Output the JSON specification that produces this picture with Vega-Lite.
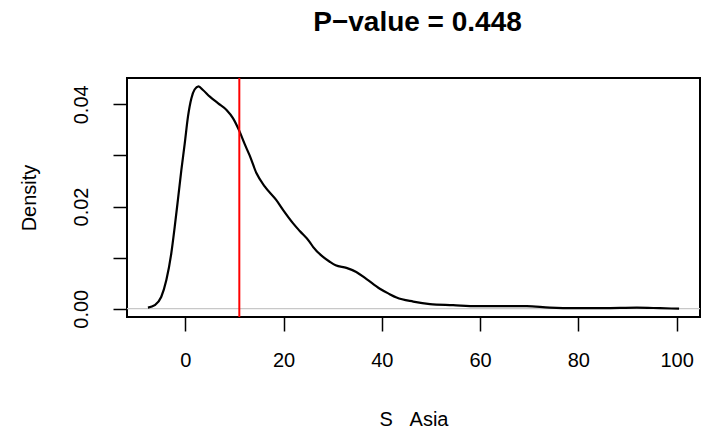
{
  "$schema": "https://vega.github.io/schema/vega-lite/v6.json",
  "width": 573,
  "height": 239,
  "autosize": "none",
  "padding": {"left": 127, "top": 78, "right": 4, "bottom": 116},
  "background": "white",
  "title": {
    "text": "P\u2212value = 0.448",
    "font": "Liberation Sans",
    "fontSize": 28,
    "fontWeight": "bold",
    "color": "black",
    "anchor": "middle",
    "frame": "group",
    "baseline": "alphabetic",
    "offset": 18,
    "dx": 4
  },
  "config": {
    "view": {"stroke": "black", "strokeWidth": 2},
    "axis": {
      "labelFont": "Liberation Sans",
      "titleFont": "Liberation Sans",
      "labelColor": "black",
      "titleColor": "black",
      "tickColor": "black",
      "tickWidth": 1.5,
      "tickSize": 14,
      "domain": false,
      "grid": false,
      "labelFontSize": 20,
      "titleFontSize": 20,
      "titleFontWeight": "normal"
    }
  },
  "data": {
    "values": [
      {"x": -7.6, "density": 0.0002},
      {"x": -6.2, "density": 0.0007},
      {"x": -4.9, "density": 0.0023},
      {"x": -3.85, "density": 0.0056},
      {"x": -2.85, "density": 0.0108},
      {"x": -2.15, "density": 0.016},
      {"x": -1.5, "density": 0.0213},
      {"x": -0.8, "density": 0.0271},
      {"x": -0.1, "density": 0.0324},
      {"x": 0.55, "density": 0.0376},
      {"x": 1.25, "density": 0.0412},
      {"x": 1.9, "density": 0.0429},
      {"x": 2.7, "density": 0.0435},
      {"x": 3.6, "density": 0.0428},
      {"x": 5.0, "density": 0.0415},
      {"x": 6.7, "density": 0.0402},
      {"x": 8.4, "density": 0.0389},
      {"x": 9.7, "density": 0.0373},
      {"x": 11.0, "density": 0.0348},
      {"x": 12.1, "density": 0.0322},
      {"x": 13.1, "density": 0.03},
      {"x": 14.5, "density": 0.0265},
      {"x": 16.2, "density": 0.0239},
      {"x": 18.5, "density": 0.0213},
      {"x": 20.0, "density": 0.0192},
      {"x": 21.95, "density": 0.0167},
      {"x": 23.3, "density": 0.0152},
      {"x": 25.3, "density": 0.0131},
      {"x": 26.0, "density": 0.0121},
      {"x": 28.1, "density": 0.0101},
      {"x": 29.4, "density": 0.0092},
      {"x": 30.6, "density": 0.0085},
      {"x": 32.8, "density": 0.008},
      {"x": 34.8, "density": 0.0072},
      {"x": 36.9, "density": 0.0058},
      {"x": 39.6, "density": 0.0039},
      {"x": 41.5, "density": 0.0029},
      {"x": 43.0, "density": 0.0022},
      {"x": 46.4, "density": 0.0014},
      {"x": 49.8, "density": 0.0009},
      {"x": 54.5, "density": 0.0007},
      {"x": 59.3, "density": 0.0005},
      {"x": 64.7, "density": 0.0005},
      {"x": 69.5, "density": 0.0005},
      {"x": 74.2, "density": 0.0002},
      {"x": 79.6, "density": 0.0001},
      {"x": 85.1, "density": 0.0001},
      {"x": 91.9, "density": 0.0002},
      {"x": 96.6, "density": 0.0001},
      {"x": 100.5, "density": 0.0}
    ]
  },
  "layer": [
    {
      "data": {"values": [{"zero": 0}]},
      "mark": {"type": "rule", "color": "#c8c8c8", "strokeWidth": 1.2},
      "encoding": {"y": {"field": "zero", "type": "quantitative", "scale": {"domain": [-0.00162, 0.04515]}}}
    },
    {
      "mark": {"type": "line", "color": "black", "strokeWidth": 2.2, "interpolate": "monotone"},
      "encoding": {
        "x": {
          "field": "x",
          "type": "quantitative",
          "scale": {"domain": [-11.86, 104.76], "nice": false, "zero": false},
          "axis": {"values": [0, 20, 40, 60, 80, 100], "title": "S\u00a0\u00a0\u00a0Asia", "labelPadding": 19, "titlePadding": 39}
        },
        "y": {
          "field": "density",
          "type": "quantitative",
          "scale": {"domain": [-0.00162, 0.04515], "nice": false, "zero": false},
          "axis": {
            "values": [0, 0.01, 0.02, 0.03, 0.04],
            "labelExpr": "round(datum.value*100) % 2 == 0 ? format(datum.value, '.2f') : ''",
            "labelAngle": 270,
            "labelAlign": "center",
            "labelBaseline": "bottom",
            "labelPadding": 22,
            "title": "Density",
            "titlePadding": 32
          }
        }
      }
    },
    {
      "data": {"values": [{"observed": 11.0}]},
      "mark": {"type": "rule", "color": "#ff0000", "strokeWidth": 2},
      "encoding": {"x": {"field": "observed", "type": "quantitative"}}
    }
  ]
}
